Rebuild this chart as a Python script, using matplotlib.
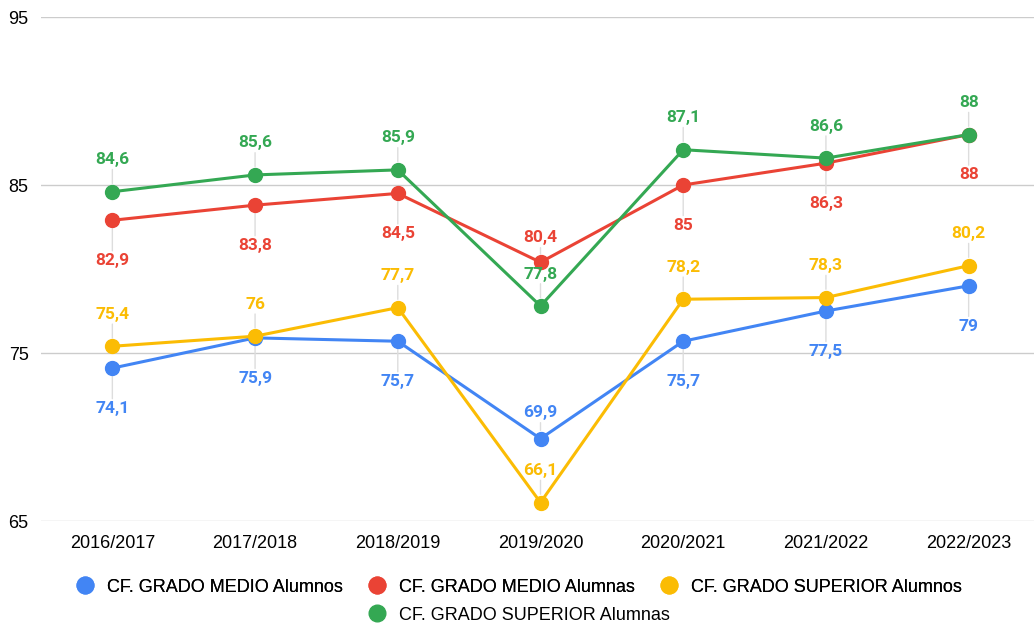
import matplotlib
matplotlib.use("Agg")
import matplotlib.pyplot as plt
from matplotlib.lines import Line2D

categories = ["2016/2017", "2017/2018", "2018/2019", "2019/2020", "2020/2021", "2021/2022", "2022/2023"]
gm_alumnos = [74.1, 75.9, 75.7, 69.9, 75.7, 77.5, 79]
gm_alumnas = [82.9, 83.8, 84.5, 80.4, 85, 86.3, 88]
gs_alumnos = [75.4, 76, 77.7, 66.1, 78.2, 78.3, 80.2]
gs_alumnas = [84.6, 85.6, 85.9, 77.8, 87.1, 86.6, 88]
series_names = ["CF. GRADO MEDIO Alumnos", "CF. GRADO MEDIO Alumnas",
                "CF. GRADO SUPERIOR Alumnos", "CF. GRADO SUPERIOR Alumnas"]
yticks = [65, 75, 85, 95]

# label placement (styling): vertical offset of each data label, in points (+ above, - below)
off_gm_alumnos = [-29, -29, -29, 18.5, -29, -29, -29]
off_gm_alumnas = [-29, -29, -29, 17.5, -29, -29, -29]
off_gs_alumnos = [23, 23, 23, 23, 23, 23, 23]
off_gs_alumnas = [23, 23, 23, 23, 23, 23, 23]

colors = ["#4285F4", "#EA4335", "#FBBC04", "#34A853"]

fig = plt.figure(figsize=(10.34, 6.25), dpi=100)
ax = fig.add_axes([41/1034, 104/625, 999/1034, 504/625])

x = list(range(len(categories)))
data = [gm_alumnos, gm_alumnas, gs_alumnos, gs_alumnas]
offsets = [off_gm_alumnos, off_gm_alumnas, off_gs_alumnos, off_gs_alumnas]
for i, (vals, offs, c) in enumerate(zip(data, offsets, colors)):
    ax.plot(x, vals, color=c, lw=2.2, marker="o", markersize=10, zorder=3 + i,
            solid_capstyle="round")
    for xi, v, o in zip(x, vals, offs):
        lbl = ("%g" % v).replace(".", ",")
        # leader line (behind the series)
        ax.annotate("", xy=(xi, v), xytext=(0, o), textcoords="offset points",
                    zorder=2,
                    arrowprops=dict(arrowstyle="-", color="#dddddd", lw=1,
                                    shrinkA=7, shrinkB=6))
        ax.annotate(lbl, xy=(xi, v), xytext=(0, o), textcoords="offset points",
                    ha="center", va="center", color=c, fontsize=12.5, fontweight="bold",
                    family="Roboto", zorder=10)

ax.set_xlim(-0.5, 6.5)
ax.set_ylim(65, 95)
ax.set_yticks(yticks)
ax.set_yticklabels([str(t) for t in yticks], family="Liberation Sans", fontsize=13)
ax.set_xticks(x)
ax.set_xticklabels(categories, family="Liberation Sans", fontsize=13)
ax.tick_params(axis="both", length=0)
ax.tick_params(axis="y", pad=9)
ax.tick_params(axis="x", pad=10)
ax.grid(axis="y", color="#cccccc", lw=1)
ax.set_axisbelow(True)
for s in ax.spines.values():
    s.set_visible(False)

handles = [Line2D([], [], marker="o", ls="", color=c, markersize=12) for c in colors]
legprops = dict(family="Liberation Sans", size=13)
leg1 = fig.legend(handles[:3], series_names[:3], loc="center", bbox_to_anchor=(0.502, 1 - 587/625),
                  ncol=3, frameon=False, prop=legprops,
                  handletextpad=0.72, columnspacing=1.4, handlelength=1.0)
leg2 = fig.legend(handles[3:], series_names[3:], loc="center", bbox_to_anchor=(0.502, 1 - 615/625),
                  ncol=1, frameon=False, prop=legprops,
                  handletextpad=0.72, handlelength=1.0)
fig.add_artist(leg1)

fig.savefig("out.png", dpi=100)
